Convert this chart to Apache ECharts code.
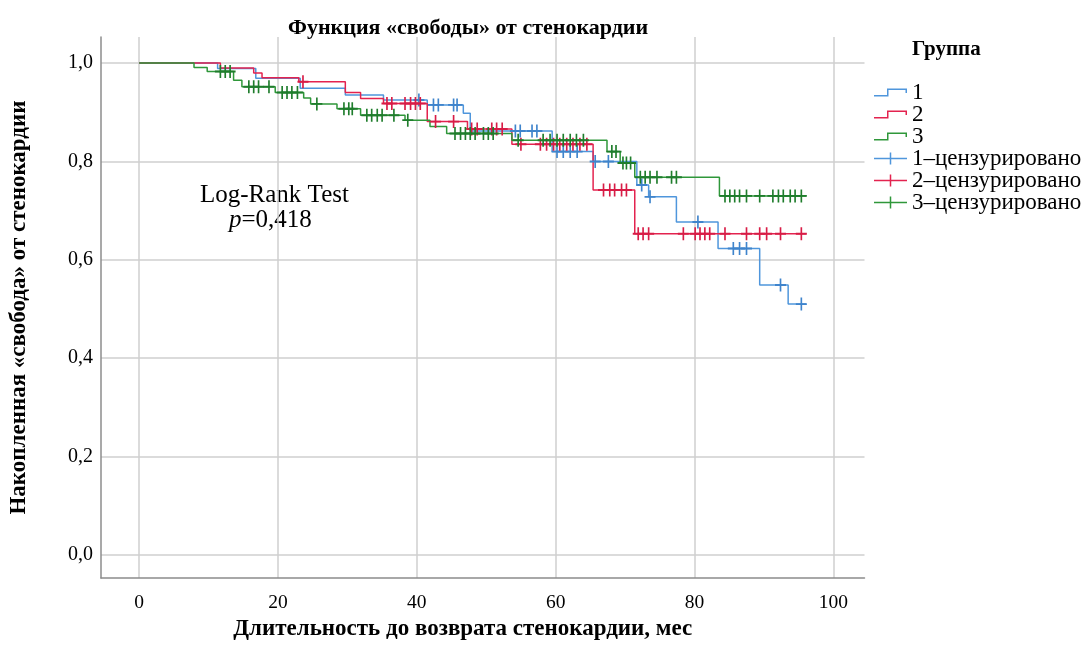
<!DOCTYPE html>
<html>
<head>
<meta charset="utf-8">
<script src="https://cdn.jsdelivr.net/npm/echarts@6/dist/echarts.min.js"></script>
<style>
  html, body { margin: 0; padding: 0; background: #fff; }
  #chart { width: 1090px; height: 646px; }
</style>
</head>
<body>
<div id="chart"></div>
<script>
// ступенчатые кривые (время, доля) и цензурированные точки
var xTicks = [0, 20, 40, 60, 80, 100];
var yTicks = [0, 0.2, 0.4, 0.6, 0.8, 1.0];

var steps1 = [[0,1],[11.3,0.989],[16.8,0.969],[23.2,0.949],[29.7,0.935],[35.2,0.925],[41.5,0.915],[46.7,0.898],[47.7,0.862],[59.5,0.820],[65.4,0.800],[71.7,0.752],[73.4,0.728],[77.4,0.677],[83.4,0.623],[89.4,0.549],[93.5,0.510],[96.1,0.510]];
var steps2 = [[0,1],[11.7,0.99],[16.5,0.98],[17.7,0.97],[23.0,0.962],[29.7,0.940],[31.9,0.928],[35.2,0.918],[41.5,0.881],[47.3,0.866],[53.7,0.835],[65.4,0.742],[71.4,0.653],[96.1,0.653]];
var steps3 = [[0,1],[7.9,0.991],[9.8,0.983],[13.6,0.965],[14.8,0.952],[19.6,0.940],[23.7,0.929],[24.7,0.917],[28.5,0.907],[31.9,0.894],[38.3,0.884],[41.9,0.871],[44.3,0.857],[53.7,0.843],[67.4,0.820],[69.3,0.797],[71.4,0.768],[83.6,0.730],[96.1,0.730]];

var cens1 = [[40.3,0.925],[42.4,0.915],[43.1,0.915],[45.3,0.915],[45.8,0.915],[54.2,0.862],[54.9,0.862],[56.6,0.862],[57.3,0.862],[60.2,0.820],[61.1,0.820],[62.1,0.820],[63.1,0.820],[65.7,0.800],[67.6,0.800],[72.4,0.752],[73.6,0.728],[80.5,0.677],[85.6,0.623],[86.5,0.623],[87.5,0.623],[92.4,0.549],[95.4,0.510]];
var cens2 = [[23.6,0.962],[35.7,0.918],[36.4,0.918],[38.3,0.918],[39.1,0.918],[39.8,0.918],[40.5,0.918],[42.7,0.881],[45.3,0.881],[47.9,0.866],[48.7,0.866],[50.8,0.866],[51.5,0.866],[52.3,0.866],[55.0,0.835],[57.8,0.835],[58.7,0.835],[59.7,0.835],[60.6,0.835],[61.6,0.835],[62.5,0.835],[63.5,0.835],[64.5,0.835],[66.9,0.742],[67.8,0.742],[68.5,0.742],[69.5,0.742],[70.2,0.742],[71.9,0.653],[72.6,0.653],[73.4,0.653],[78.4,0.653],[80.1,0.653],[80.8,0.653],[81.5,0.653],[82.2,0.653],[84.4,0.653],[87.5,0.653],[89.4,0.653],[90.4,0.653],[92.4,0.653],[95.4,0.653]];
var cens3 = [[11.7,0.983],[12.4,0.983],[13.1,0.983],[15.8,0.952],[16.5,0.952],[17.2,0.952],[18.7,0.952],[20.6,0.940],[21.3,0.940],[22.0,0.940],[22.8,0.940],[25.6,0.917],[29.5,0.907],[30.2,0.907],[30.7,0.907],[32.8,0.894],[33.5,0.894],[34.3,0.894],[35.0,0.894],[36.7,0.894],[38.7,0.884],[45.5,0.857],[46.3,0.857],[47.0,0.857],[47.7,0.857],[48.4,0.857],[49.6,0.857],[50.3,0.857],[51.0,0.857],[54.6,0.843],[58.2,0.843],[59.2,0.843],[60.2,0.843],[61.1,0.843],[62.1,0.843],[63.0,0.843],[64.0,0.843],[68.1,0.820],[68.7,0.820],[69.7,0.797],[70.2,0.797],[70.8,0.797],[72.2,0.768],[72.9,0.768],[73.6,0.768],[74.6,0.768],[76.7,0.768],[77.4,0.768],[84.4,0.730],[85.1,0.730],[85.8,0.730],[86.5,0.730],[87.5,0.730],[89.4,0.730],[91.3,0.730],[92.1,0.730],[92.8,0.730],[93.8,0.730],[94.5,0.730],[95.4,0.730]];

var groupNames = ['1', '2', '3'];
var censNames = ['1–цензурировано', '2–цензурировано', '3–цензурировано'];
var lineColors = ['#4f96dc', '#e3234f', '#2f973a'];
var markColors = ['#3f84cc', '#d81c46', '#1f7d2c'];

var serif = '"Liberation Serif", "DejaVu Serif", serif';
var stepIcon = 'path://M0,6.5H13V0H33V4.5H31.5V1.5H14.5V8H0Z';
var plusIcon = 'path://M0,5.25H15.75V0H17.25V5.25H33V6.75H17.25V12H15.75V6.75H0Z';
var plusMark = 'path://M-0.15,-1H0.15V-0.15H1V0.15H0.15V1H-0.15V0.15H-1V-0.15H-0.15Z';

var chart = echarts.init(document.getElementById('chart'));

var series = [];
[steps1, steps2, steps3].forEach(function (d, i) {
    series.push({
        name: groupNames[i],
        type: 'line',
        step: 'end',
        data: d,
        symbol: 'none',
        lineStyle: { color: lineColors[i], width: 1.5 },
        itemStyle: { color: lineColors[i] },
        z: 2
    });
});
[cens1, cens2, cens3].forEach(function (d, i) {
    series.push({
        name: censNames[i],
        type: 'scatter',
        data: d,
        symbol: plusMark,
        symbolSize: [11, 13],
        symbolKeepAspect: false,
        itemStyle: { color: markColors[i], opacity: 1 },
        z: 3
    });
});

var legendData = groupNames.map(function (n, i) {
    return { name: n, icon: stepIcon, itemStyle: { color: lineColors[i] } };
}).concat(censNames.map(function (n, i) {
    return { name: n, icon: plusIcon, itemStyle: { color: lineColors[i] } };
}));

var option = {
    backgroundColor: '#fff',
    animation: false,
    textStyle: { fontFamily: serif },
    title: [{
        text: 'Функция «свободы» от стенокардии',
        left: 283, top: 12,
        textStyle: { fontFamily: serif, fontWeight: 'bold', fontSize: 22, color: '#000' }
    }, {
        text: 'Группа',
        left: 907, top: 34,
        textStyle: { fontFamily: serif, fontWeight: 'bold', fontSize: 21, color: '#000' }
    }],
    legend: {
        orient: 'vertical',
        left: 869, top: 76,
        itemWidth: 33, itemHeight: 14,
        itemGap: -1,
        itemTextGap: 9,
        symbolKeepAspect: true,
        selectedMode: false,
        data: legendData,
        textStyle: { fontFamily: serif, fontSize: 23, color: '#000', lineHeight: 22, padding: [0, 0, 0, 0] }
    },
    grid: { left: 100, top: 37, right: 225.5, bottom: 62, containLabel: false },
    xAxis: {
        type: 'value',
        min: -5.5, max: 104.5,
        name: 'Длительность до возврата стенокардии, мес',
        nameLocation: 'middle',
        nameGap: 39,
        nameTextStyle: { fontFamily: serif, fontWeight: 'bold', fontSize: 23, color: '#000', padding: [0, 40, 0, 0] },
        axisLine: { onZero: false, lineStyle: { color: '#8c8c8c', width: 1.5 } },
        axisTick: { show: false, customValues: xTicks },
        axisLabel: { customValues: xTicks, margin: 15, fontFamily: serif, fontSize: 19.5, color: '#000' },
        splitLine: { show: true, lineStyle: { color: '#cfcfcf', width: 1.5 } }
    },
    yAxis: {
        type: 'value',
        min: -0.047, max: 1.053,
        name: 'Накопленная «свобода» от стенокардии',
        nameLocation: 'middle',
        nameRotate: 90,
        nameGap: 70,
        nameTextStyle: { fontFamily: serif, fontWeight: 'bold', fontSize: 23, color: '#000' },
        axisLine: { show: true, onZero: false, lineStyle: { color: '#8c8c8c', width: 1.5 } },
        axisTick: { show: false, customValues: yTicks },
        axisLabel: {
            customValues: yTicks, margin: 8, fontFamily: serif, fontSize: 20, color: '#000',
            formatter: function (v) { return v.toFixed(1).replace('.', ','); }
        },
        splitLine: { show: true, lineStyle: { color: '#cfcfcf', width: 1.5 } }
    },
    graphic: [{
        type: 'text', left: 200, top: 183,
        style: { text: 'Log-Rank Test', font: '25px ' + serif, fill: '#000' }
    }, {
        type: 'text', left: 229, top: 208,
        style: {
            text: '{i|p}=0,418', font: '25px ' + serif, fill: '#000',
            rich: { i: { fontStyle: 'italic', fontFamily: serif, fontSize: 25 } }
        }
    }],
    series: series
};

chart.setOption(option);
</script>
</body>
</html>
